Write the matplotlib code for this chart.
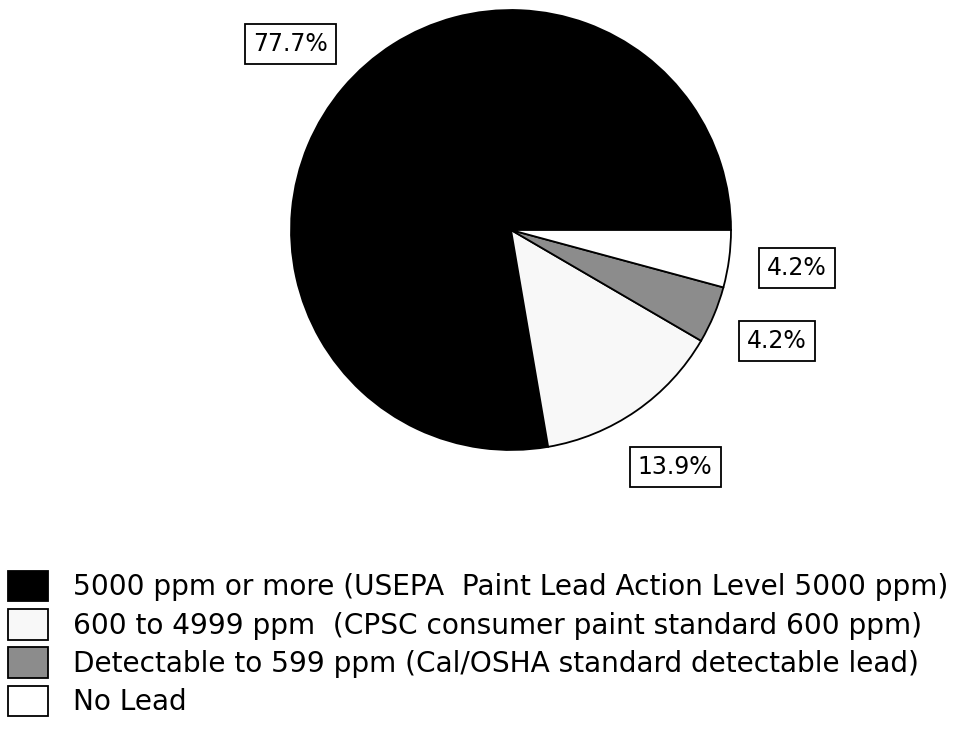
import matplotlib
matplotlib.use("Agg")
import matplotlib.pyplot as plt

# Share of samples by lead content
categories = [
    "5000 ppm or more (USEPA  Paint Lead Action Level 5000 ppm)",
    "600 to 4999 ppm  (CPSC consumer paint standard 600 ppm)",
    "Detectable to 599 ppm (Cal/OSHA standard detectable lead)",
    "No Lead",
]
shares = [77.7, 13.9, 4.2, 4.2]
fills = ["#000000", "#f8f8f8", "#8c8c8c", "#ffffff"]

plt.rcParams["font.family"] = ["DejaVu Sans"]

fig = plt.figure(figsize=(9.61, 7.36), dpi=100)
ax = fig.add_axes([0.3028, 0.3886, 0.4579, 0.5978])

wedges, texts, autotexts = ax.pie(
    shares,
    colors=fills,
    startangle=0,
    counterclock=True,
    autopct="%.1f%%",
    pctdistance=1.31,
    wedgeprops=dict(edgecolor="black", linewidth=1.3),
    textprops=dict(fontsize=17, color="black"),
)
for t in autotexts:
    t.set_bbox(dict(boxstyle="square,pad=0.34", facecolor="white",
                    edgecolor="black", linewidth=1.3))
ax.set_xlim(-1, 1)
ax.set_ylim(-1, 1)
ax.set_aspect("equal")
ax.axis("off")

fig.legend(
    wedges, categories,
    loc="upper left", bbox_to_anchor=(0.0, 0.236),
    frameon=False, fontsize=20.2,
    handlelength=1.4, handleheight=1.3, handletextpad=0.9,
    labelspacing=0.27, borderaxespad=0.0, borderpad=0.3,
)

fig.savefig("out.png", dpi=100)
